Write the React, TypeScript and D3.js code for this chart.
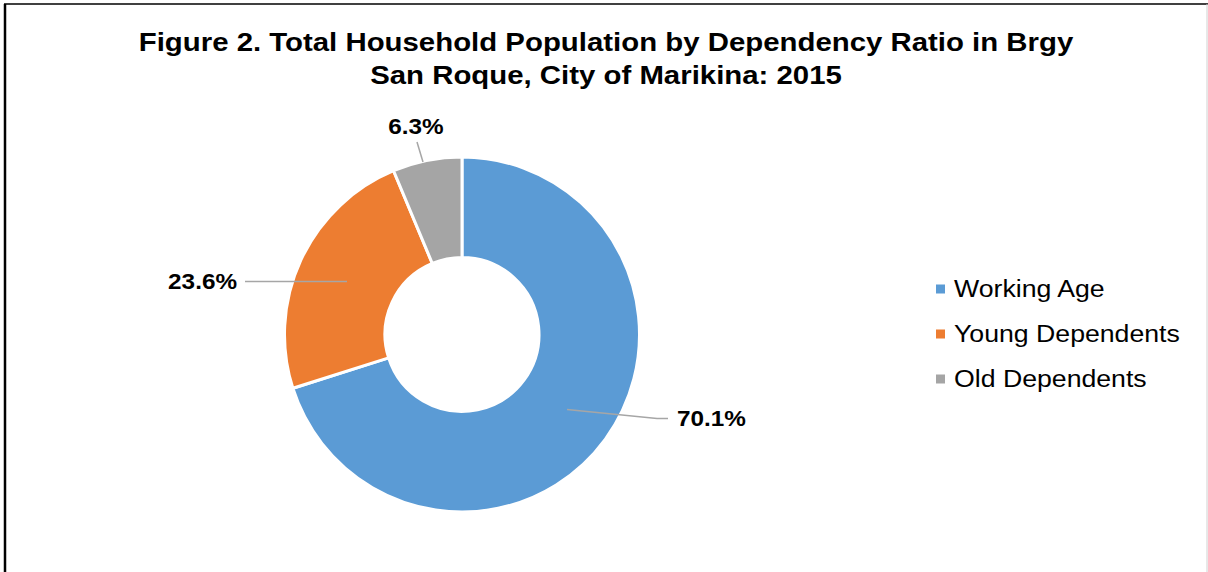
import React, { useEffect, useRef } from 'react';
import * as d3 from 'd3';

// chart data
const categories = ['Working Age', 'Young Dependents', 'Old Dependents'];
const shares = [70.1, 23.6, 6.3];
const labels = ['70.1%', '23.6%', '6.3%'];
const colors = ['#5B9BD5', '#ED7D31', '#A5A5A5'];
const titleLines = [
  'Figure 2. Total Household Population by Dependency Ratio in Brgy',
  'San Roque, City of Marikina: 2015',
];

const W = 1208;
const H = 572;
const FONT = '"Liberation Sans", Arial, sans-serif';
const STRETCH = 1.13; // reference text is a bit wider than Arial

const App = () => {
  const ref = useRef<SVGSVGElement | null>(null);

  useEffect(() => {
    const svg = d3.select(ref.current);
    svg.selectAll('*').remove();

    // chart border (left/top dark, right light)
    svg.append('line').attr('x1', 5).attr('y1', 4).attr('x2', 5).attr('y2', H)
      .attr('stroke', '#000').attr('stroke-width', 2.5);
    svg.append('line').attr('x1', 4).attr('y1', 4).attr('x2', W).attr('y2', 4)
      .attr('stroke', '#000').attr('stroke-width', 1.5);
    svg.append('line').attr('x1', 1207).attr('y1', 4).attr('x2', 1207).attr('y2', H)
      .attr('stroke', '#d0d0d0').attr('stroke-width', 1);

    // title
    svg.append('g')
      .selectAll('text')
      .data(titleLines)
      .join('text')
      .attr('transform', (d, i) => `translate(606,${51 + i * 33}) scale(${STRETCH},1)`)
      .attr('text-anchor', 'middle')
      .style('font-family', FONT)
      .style('font-weight', 'bold')
      .style('font-size', '26px')
      .text(d => d);

    const cx = 462;
    const cy = 334.5;
    const outerR = 177.5;
    const innerR = 77;

    const pie = d3.pie<number>().sort(null).value(d => d);
    const arcs = pie(shares);
    const arc = d3.arc<d3.PieArcDatum<number>>().innerRadius(innerR).outerRadius(outerR);

    const g = svg.append('g').attr('transform', `translate(${cx},${cy})`);

    g.selectAll('path')
      .data(arcs)
      .join('path')
      .attr('d', arc)
      .attr('fill', (d, i) => colors[i])
      .attr('stroke', '#fff')
      .attr('stroke-width', 3)
      .attr('stroke-linejoin', 'miter');

    // data labels with leader lines (relative to centre)
    const labelPos = [
      { line: [[105, 75], [195, 84], [206, 84]], tx: 215, ty: 84, anchor: 'start' },
      { line: [[-115, -53], [-217, -53]], tx: -225, ty: -53, anchor: 'end' },
      { line: [[-39, -172.5], [-45, -192.5]], tx: -46, ty: -208, anchor: 'middle' },
    ];

    const line = d3.line();
    labelPos.forEach((p, i) => {
      g.append('path')
        .attr('d', line(p.line as [number, number][]))
        .attr('fill', 'none')
        .attr('stroke', '#A6A6A6')
        .attr('stroke-width', 1.5);
      g.append('text')
        .attr('transform', `translate(${p.tx},${p.ty}) scale(${STRETCH},1)`)
        .attr('dy', '0.35em')
        .attr('text-anchor', p.anchor)
        .style('font-family', FONT)
        .style('font-weight', 'bold')
        .style('font-size', '21.5px')
        .text(labels[i]);
    });

    // legend
    const legend = svg.append('g').attr('transform', 'translate(936,289)');
    const rows = legend.selectAll('g')
      .data(categories)
      .join('g')
      .attr('transform', (d, i) => `translate(0,${i * 45})`);
    rows.append('rect')
      .attr('x', 0).attr('y', -4.5).attr('width', 9).attr('height', 9)
      .attr('fill', (d, i) => colors[i]);
    rows.append('text')
      .attr('transform', `translate(18,0) scale(${STRETCH + 0.03},1)`)
      .attr('dy', '0.35em')
      .style('font-family', FONT)
      .style('font-size', '23px')
      .attr('fill', '#000')
      .text(d => d);
  }, []);

  return (
    <svg
      ref={ref}
      width={W}
      height={H}
      style={{ position: 'absolute', left: 0, top: 0, background: '#fff' }}
    />
  );
};

export default App;
